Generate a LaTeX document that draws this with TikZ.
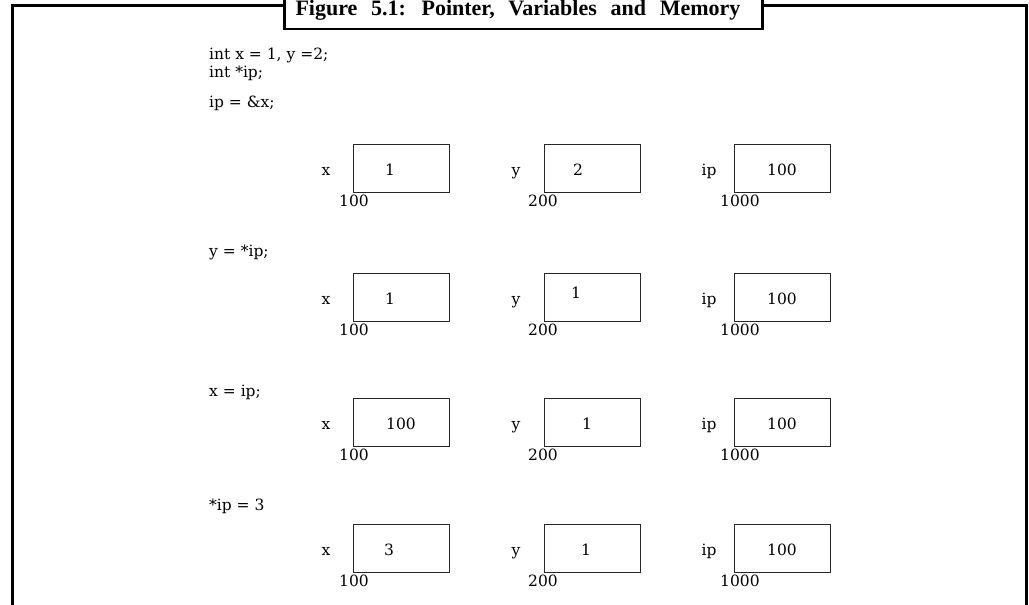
\documentclass[tikz,border=0pt]{standalone}
\usepackage{fontspec}
\setmainfont{DejaVu Serif}
\newfontfamily\titlefont[WordSpace=2.5]{Liberation Serif}
\usetikzlibrary{positioning}

\begin{document}
\begin{tikzpicture}[x=1pt, y=-1pt, every node/.style={inner sep=0pt, font=\fontsize{15.5}{18}\selectfont}]
\tikzstyle{frame}=[line width=2.5pt]
\tikzstyle{cell}=[draw=black!85, line width=1.2pt, minimum width=96pt, minimum height=48pt, anchor=north west]
\tikzstyle{code}=[anchor=base west]
\tikzstyle{txt}=[anchor=base]
\tikzstyle{addr}=[anchor=base west]
\useasboundingbox (0,0) rectangle (1029,605);
% outer frame, open at the bottom
\draw[frame] (12.5,605) -- (12.5,5.5) -- (1026.5,5.5) -- (1026.5,605);
\node[draw, frame, fill=white, minimum width=478pt, minimum height=45pt, anchor=south west] (title) at (283,30) {};
\node[txt, font=\titlefont\bfseries\fontsize{22}{24}\selectfont] (caption) at (518,16) {Figure 5.1: Pointer, Variables and Memory};
% the statements
\node[code] (decl) at (209,59) {int x = 1, y =2;};
\node[code] (ptr) at (209,77) {int *ip;};
\node[code] (s1) at (209,107) {ip = \&x;};
\node[code] (s2) at (209,256) {y = *ip;};
\node[code] (s3) at (209,396) {x = ip;};
\node[code] (s4) at (209,510) {*ip = 3};
% memory after each statement
\foreach \r/\top/\vx/\ox/\vy/\oy/\dy in {1/144/1/37/2/34/0, 2/273/1/37/1/32/-6, 3/398/100/48/1/43/0, 4/524/3/36/1/42/0} {
  \node[cell] (x\r) at (353,\top) {};
  \node[cell] (y\r) at (544,\top) {};
  \node[cell] (ip\r) at (734,\top) {};
  \node[txt] (xl\r) at (326,\top+31) {x};
  \node[txt] (yl\r) at (516,\top+31) {y};
  \node[txt] (ipl\r) at (709,\top+31) {ip};
  \node[txt] (xv\r) at (353+\ox,\top+31) {\vx};
  \node[txt] (yv\r) at (544+\oy,\top+31+\dy) {\vy};
  \node[txt] (ipv\r) at (782,\top+31) {100};
  \node[addr] (xa\r) at (339,\top+62.5) {100};
  \node[addr] (ya\r) at (528,\top+62.5) {200};
  \node[addr] (ipa\r) at (720,\top+62.5) {1000};
}
\end{tikzpicture}
\end{document}
